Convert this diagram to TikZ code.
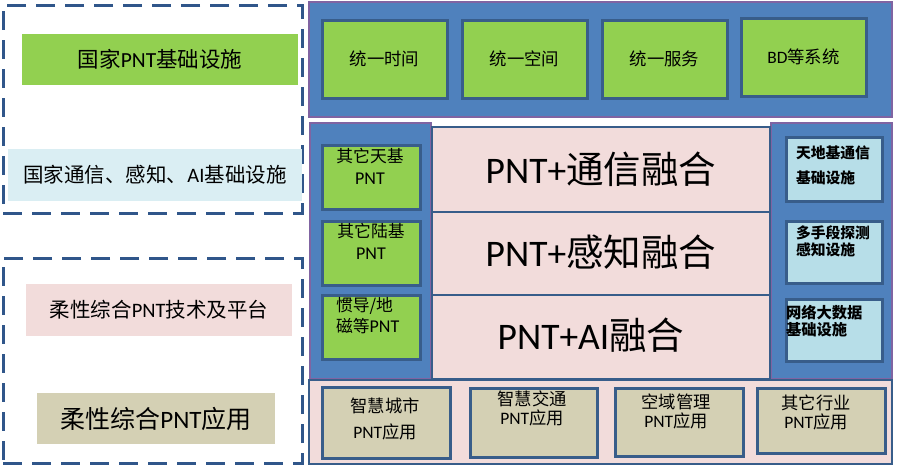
\documentclass[tikz,border=0pt]{standalone}
\usepackage{fontspec}
\setmainfont{Noto Sans CJK SC}
\newfontfamily\lf{Carlito}
\newcommand\pnt{{\lf PNT}}
\newcommand\fsz[2]{\fontsize{#1}{#2}\selectfont}
\definecolor{dashblue}{HTML}{30568A}
\definecolor{lgreen}{HTML}{92D050}
\definecolor{lblue}{HTML}{DAEEF3}
\definecolor{lpink}{HTML}{F2DCDB}
\definecolor{ltan}{HTML}{D4D0B4}
\definecolor{pblue}{HTML}{4F81BD}
\definecolor{ppurple}{HTML}{8064A2}
\definecolor{bblue}{HTML}{385D8A}
\definecolor{sky}{HTML}{B7DEE8}
\begin{document}
\begin{tikzpicture}[x=1pt,y=-1pt,
  every node/.style={inner sep=0pt,outer sep=0pt},
  rect/.style 2 args={anchor=north west,minimum width=#1,minimum height=#2},
  dashbox/.style={draw=dashblue,line width=3pt,dash pattern=on 19pt off 10pt},
  panel/.style={fill=pblue,draw=ppurple,line width=2.5pt},
  gbox/.style={fill=lgreen,draw=bblue,line width=3pt},
  rowbox/.style={fill=lpink,draw=bblue,line width=2.5pt},
  skybox/.style={fill=sky,draw=bblue,line width=3pt},
  tbox/.style={fill=ltan,draw=bblue,line width=3pt},
  bpanel/.style={fill=lpink,draw=bblue,line width=2.5pt}]
\useasboundingbox (0,0) rectangle (897,469);
\fill[white] (0,0) rectangle (897,469);
% left side
\node[dashbox,rect={299pt}{208pt}] (d1) at (3,5) {};
\node[dashbox,rect={299pt}{205pt}] (d2) at (3,258) {};
\node[fill=lgreen,rect={276pt}{51pt},font=\fsz{21.5}{24}] (l1) at (22,34) {国家\pnt 基础设施};
\node[fill=lblue,rect={294pt}{52pt},font=\fsz{20.5}{24}] (l2) at (8,149) {国家通信、感知、{\lf AI}基础设施};
\node[fill=lpink,rect={266pt}{52pt},font=\fsz{20.5}{24}] (l3) at (26,284) {柔性综合\pnt 技术及平台};
\node[fill=ltan,rect={238pt}{51pt},font=\fsz{25}{28}] (l4) at (37,393) {柔性综合\pnt 应用};
% top panel
\node[panel,rect={583pt}{115pt}] (top) at (309,2) {};
\node[gbox,rect={125pt}{78pt},font=\fsz{17.4}{20}] (t1) at (322,20) {统一时间};
\node[gbox,rect={125pt}{78pt},font=\fsz{17.4}{20}] (t2) at (462,20) {统一空间};
\node[gbox,rect={125pt}{78pt},font=\fsz{17.4}{20}] (t3) at (602,20) {统一服务};
\node[gbox,rect={125pt}{78pt},font=\fsz{17.4}{20}] (t4) at (741,18) {{\lf BD}等系统};
% middle
\node[panel,rect={121pt}{256pt}] (lc) at (310,123) {};
\node[panel,rect={121pt}{256pt}] (rc) at (771,123) {};
\node[rowbox,rect={338pt}{85pt},font=\fsz{37.5}{40}] (r1) at (432,127) {\pnt{\lf +}通信融合};
\node[rowbox,rect={338pt}{83pt},font=\fsz{37.5}{40}] (r2) at (432,212) {\raisebox{6pt}{\pnt{\lf +}感知融合}};
\node[rowbox,rect={338pt}{84pt},font=\fsz{37.5}{40}] (r3) at (432,295) {\raisebox{7pt}{\pnt{\lf +AI}融合\hspace{20pt}}};
\node[gbox,rect={98pt}{64pt}] (g1) at (322,145) {};
\node[gbox,rect={98pt}{64pt}] (g2) at (322,221) {};
\node[gbox,rect={98pt}{64pt}] (g3) at (322,295) {};
\node[anchor=north,align=center,font=\fsz{16.8}{22}] (g1t) at (370,148) {其它天基\\{\lf\fsz{18}{22}PNT}};
\node[anchor=north,align=center,font=\fsz{16.8}{22}] (g2t) at (371,223) {其它陆基\\{\lf\fsz{18}{22}PNT}};
\node[anchor=north west,align=left,font=\fsz{16.8}{21}] (g3t) at (336,297) {惯导/地\\磁等{\lf\fsz{18}{21}PNT}};
\node[skybox,rect={96pt}{64pt}] (s1) at (786,137) {};
\node[skybox,rect={96pt}{62pt}] (s2) at (786,221) {};
\node[skybox,rect={96pt}{62pt}] (s3) at (786,299) {};
\node[anchor=north west,align=left,font=\bfseries\fsz{14.8}{25}] (s1t) at (796,146) {天地基通信\\基础设施};
\node[anchor=north west,align=left,font=\bfseries\fsz{14.8}{17}] (s2t) at (796,226) {多手段探测\\感知设施};
\node[anchor=north west,align=left,font=\bfseries\fsz{15.3}{17}] (s3t) at (786,305) {网络大数据\\基础设施};
% bottom
\node[bpanel,rect={583pt}{84pt}] (bot) at (309,380) {};
\node[tbox,rect={128pt}{71pt}] (b1) at (322,387) {};
\node[tbox,rect={127pt}{69pt}] (b2) at (470,388) {};
\node[tbox,rect={128pt}{68pt}] (b3) at (615,388) {};
\node[tbox,rect={128pt}{65pt}] (b4) at (757,388) {};
\node[anchor=north,align=center,font=\fsz{17.3}{26}] (b1t) at (385,398) {智慧城市\\{\lf\fsz{17.5}{26}PNT}应用};
\node[anchor=north,align=center,font=\fsz{17.3}{19}] (b2t) at (532,391) {智慧交通\\{\lf\fsz{17.5}{19}PNT}应用};
\node[anchor=north,align=center,font=\fsz{17.3}{19}] (b3t) at (676,394) {空域管理\\{\lf\fsz{17.5}{19}PNT}应用};
\node[anchor=north,align=center,font=\fsz{17.3}{19}] (b4t) at (816,395) {其它行业\\{\lf\fsz{17.5}{19}PNT}应用};
\end{tikzpicture}
\end{document}
